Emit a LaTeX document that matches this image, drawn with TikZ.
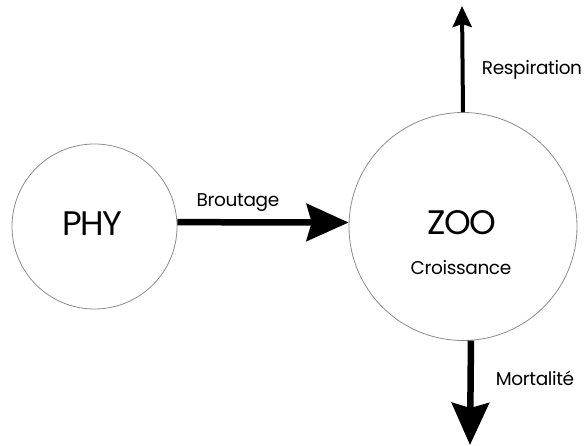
\documentclass[tikz,border=0pt]{standalone}
\usepackage{fontspec}
\setmainfont{Poppins}
\usetikzlibrary{arrows.meta}
\begin{document}
\begin{tikzpicture}[x=1pt,y=-1pt,
  pool/.style={circle,draw=black!45,line width=0.8pt,inner sep=0pt},
  bigname/.style={font=\fontsize{34}{40}\selectfont\addfontfeature{LetterSpace=-5}},
  flowlabel/.style={font=\fontsize{18.5}{22}\selectfont\addfontfeature{LetterSpace=-2},inner sep=0pt},
  heavyflow/.style={line width=6.5pt,-{Stealth[length=42pt,width=37pt,inset=5pt]}},
  lightflow/.style={line width=4pt,-{Stealth[length=21pt,width=19pt,inset=3pt]}}]
\useasboundingbox (0,0) rectangle (587,446);
% compartments
\node[pool,minimum size=165pt] (phy) at (94.5,226.5) {};
\node[pool,minimum size=228pt] (zoo) at (463,226.5) {};
\node[bigname] (phyname) at (92,223.5) {PHY};
\node[bigname] (zooname) at (462,223) {ZOO};
\node[flowlabel] (growth) at (461,268) {Croissance};
% free ends of the outgoing fluxes
\coordinate (respend) at (462,6);
\coordinate (mortend) at (470,445);
% fluxes
\draw[heavyflow] (phy.3) -- (zoo.178);
\draw[lightflow] (zoo.north) -- (respend);
\draw[heavyflow] (zoo.-86.5) -- (mortend);
\node[flowlabel] (grazing) at (238,203) {Broutage};
\node[flowlabel] (resp) at (532,70) {Respiration};
\node[flowlabel] (mort) at (535,378) {Mortalité};
\end{tikzpicture}
\end{document}
